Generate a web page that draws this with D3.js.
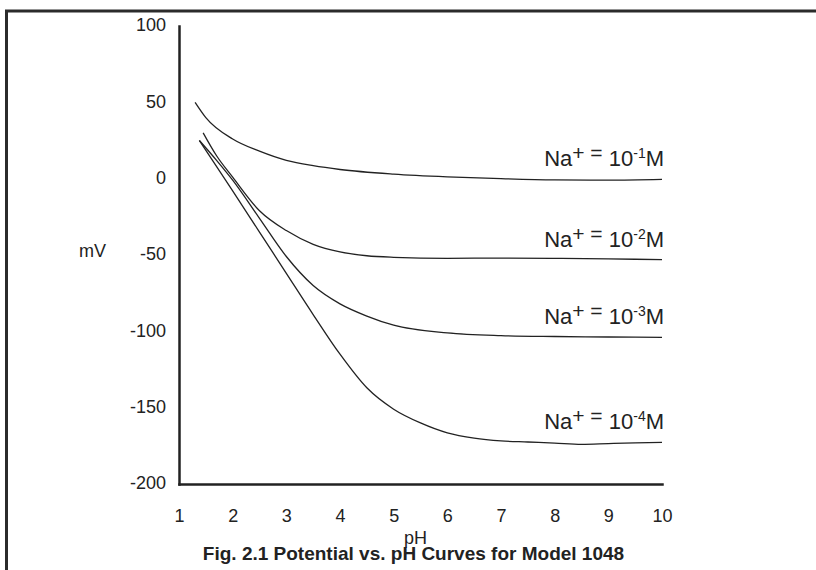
<!DOCTYPE html>
<html>
<head>
<meta charset="utf-8">
<script src="https://cdn.jsdelivr.net/npm/d3@7"></script>
<style>
  body { margin: 0; background: #fff; }
  svg { display: block; font-family: "Liberation Sans", Arial, Helvetica, sans-serif; }
  text { white-space: pre; }
</style>
</head>
<body>
<div id="chart"></div>
<script>
// Potential vs. pH, one curve per sodium concentration (exponent of 10)
const naExponents = ["-1", "-2", "-3", "-4"];

const ph1 = [1.3, 1.5, 2.0, 2.5, 3.0, 3.5, 4.0, 5.0, 6.0, 7.0, 8.0, 9.0, 10.0];
const mv1 = [50, 40, 26, 18, 12, 8.5, 6, 3, 1.2, 0, -0.8, -1, -0.5];

const ph2 = [1.45, 1.7, 2.0, 2.5, 3.0, 3.5, 4.0, 4.5, 5.0, 6.0, 7.0, 8.0, 9.0, 10.0];
const mv2 = [30, 15, 1, -21, -34, -43, -48, -50.5, -51.5, -52.2, -52, -52.2, -52.6, -53];

const ph3 = [1.38, 1.7, 2.0, 2.5, 3.0, 3.5, 4.0, 4.5, 5.0, 6.0, 7.0, 8.0, 9.0, 10.0];
const mv3 = [25, 12, -1, -26, -51, -70, -82, -90, -96, -101, -102.8, -103.4, -103.7, -104];

const ph4 = [1.38, 2.0, 2.5, 3.0, 3.5, 4.0, 4.5, 5.0, 5.5, 6.0, 6.5, 7.0, 7.5, 8.0, 8.5, 9.0, 9.5, 10.0];
const mv4 = [25, -8, -35, -62, -89, -115, -137, -151, -160, -166.5, -170, -171.8, -172.5, -173.2, -174, -173.5, -173, -172.7];

const xTicks = [1, 2, 3, 4, 5, 6, 7, 8, 9, 10];
const yTicks = [100, 50, 0, -50, -100, -150, -200];

const series = [
    { exp: naExponents[0], ph: ph1, mv: mv1 },
    { exp: naExponents[1], ph: ph2, mv: mv2 },
    { exp: naExponents[2], ph: ph3, mv: mv3 },
    { exp: naExponents[3], ph: ph4, mv: mv4 }
];

const width = 816, height = 570;
const ink = "#222";

const svg = d3.select("#chart").append("svg")
    .attr("width", width)
    .attr("height", height);

svg.append("rect").attr("width", width).attr("height", height).attr("fill", "#fff");

// outer frame (runs off the right and bottom edges)
svg.append("path")
    .attr("d", "M6.5,570V11H816")
    .attr("fill", "none")
    .attr("stroke", "#2b2b2b")
    .attr("stroke-width", 3);

const x = d3.scaleLinear().domain([1, 10]).range([179, 662]);
const y = d3.scaleLinear().domain([-200, 100]).range([484, 26]);

// plain hyphen for negatives, like the original figure
const plain = d => String(d);

// y axis
const yAxis = svg.append("g")
    .attr("transform", `translate(${x(1)},0)`)
    .call(d3.axisLeft(y).tickValues(yTicks).tickSize(0).tickPadding(13).tickFormat(plain));
yAxis.select(".domain").attr("stroke", ink).attr("stroke-width", 2.5).attr("stroke-linecap", "square");
yAxis.selectAll("text")
    .attr("dy", "0.27em")
    .attr("fill", ink)
    .style("font-size", "18px")
    .style("font-family", "Liberation Sans, Arial, sans-serif");

// x axis
const xAxis = svg.append("g")
    .attr("transform", `translate(0,${y(-200)})`)
    .call(d3.axisBottom(x).tickValues(xTicks).tickSize(0).tickPadding(25).tickFormat(plain));
xAxis.select(".domain").attr("stroke", ink).attr("stroke-width", 2.5).attr("stroke-linecap", "square");
xAxis.selectAll("text")
    .attr("fill", ink)
    .style("font-size", "18px")
    .style("font-family", "Liberation Sans, Arial, sans-serif");

// axis titles
svg.append("text")
    .attr("x", 79)
    .attr("y", 256.5)
    .attr("fill", ink)
    .style("font-size", "18px")
    .text("mV");

svg.append("text")
    .attr("x", 415.5)
    .attr("y", 544)
    .attr("text-anchor", "middle")
    .attr("fill", ink)
    .style("font-size", "18px")
    .text("pH");

svg.append("text")
    .attr("x", 413.5)
    .attr("y", 560)
    .attr("text-anchor", "middle")
    .attr("fill", ink)
    .style("font-size", "19px")
    .style("font-weight", "bold")
    .text("Fig. 2.1 Potential vs. pH Curves for Model 1048");

// curves
const line = d3.line()
    .x(d => x(d[0]))
    .y(d => y(d[1]))
    .curve(d3.curveMonotoneX);

svg.append("g")
    .selectAll("path")
    .data(series)
    .enter().append("path")
    .attr("fill", "none")
    .attr("stroke", ink)
    .attr("stroke-width", 1.3)
    .attr("d", s => line(s.ph.map((p, i) => [p, s.mv[i]])));

// curve labels: Na+ = 10^nM, right aligned above the end of each curve
const labels = svg.append("g")
    .selectAll("text")
    .data(series)
    .enter().append("text")
    .attr("x", x(10) + 2)
    .attr("y", s => y(s.mv[s.mv.length - 1]) - 13)
    .attr("text-anchor", "end")
    .attr("fill", ink)
    .style("font-size", "22px");

labels.append("tspan").text("Na");
labels.append("tspan").attr("dy", -6).style("font-size", "21px").text("+ =");
labels.append("tspan").attr("dy", 6).text(" 10");
labels.append("tspan").attr("dy", -8).style("font-size", "14px").text(s => s.exp);
labels.append("tspan").attr("dy", 8).text("M");
</script>
</body>
</html>
